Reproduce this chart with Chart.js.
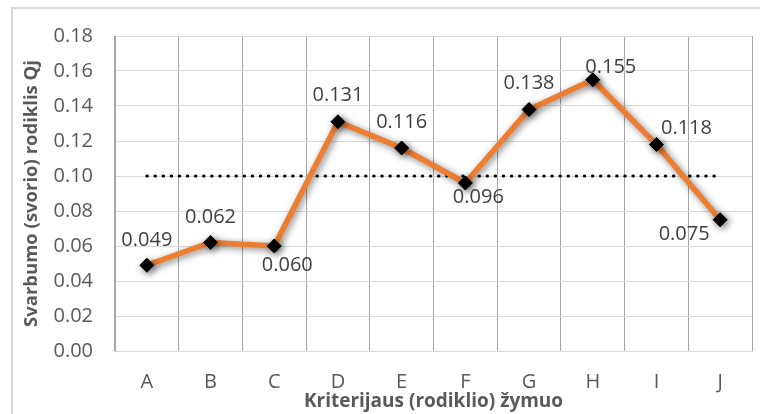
<!DOCTYPE html>
<html>
<head>
<meta charset="utf-8">
<script src="https://cdn.jsdelivr.net/npm/chart.js@4.4.1/dist/chart.umd.min.js"></script>
<style>
  html, body { margin: 0; padding: 0; background: #fff; }
  #wrap { width: 760px; height: 414px; }
</style>
</head>
<body>
<div id="wrap"><canvas id="qjChart" width="760" height="414"></canvas></div>
<script>
const categories = ["A", "B", "C", "D", "E", "F", "G", "H", "I", "J"];
const qjValues = [0.049, 0.062, 0.060, 0.131, 0.116, 0.096, 0.138, 0.155, 0.118, 0.075];
const averageLine = [0.10, 0.10, 0.10, 0.10, 0.10, 0.10, 0.10, 0.10, 0.10, 0.10];
const yTicks = [0, 0.02, 0.04, 0.06, 0.08, 0.10, 0.12, 0.14, 0.16, 0.18];

// where each value label sits relative to its point
const labelOffsets = [
  [0, -25], [0, -25], [13, 19], [0, -26], [0, -26],
  [13, 14], [0, -26], [18, -12], [30, -16], [-36, 15]
];

const frame = {
  id: "frame",
  beforeDraw(chart) {
    const ctx = chart.ctx;
    ctx.save();
    ctx.fillStyle = "#fff";
    ctx.fillRect(0, 0, chart.width, chart.height);
    ctx.strokeStyle = "#d9d9d9";
    ctx.lineWidth = 2;
    ctx.strokeRect(12, 8, chart.width + 20, chart.height + 20);
    ctx.restore();
  },
};

const lineShadow = {
  id: "lineShadow",
  beforeDatasetDraw(chart, args) {
    if (args.index !== 0) return;
    const ctx = chart.ctx;
    ctx.save();
    ctx.shadowColor = "rgba(0,0,0,0.5)";
    ctx.shadowBlur = 7;
    ctx.shadowOffsetX = 2;
    ctx.shadowOffsetY = 2;
  },
  afterDatasetDraw(chart, args) {
    if (args.index !== 0) return;
    chart.ctx.restore();
  },
};

const valueLabels = {
  id: "valueLabels",
  afterDatasetsDraw(chart) {
    const ctx = chart.ctx;
    const meta = chart.getDatasetMeta(0);
    ctx.save();
    ctx.font = "20px 'Open Sans'";
    ctx.fillStyle = "#404040";
    ctx.textAlign = "center";
    ctx.textBaseline = "middle";
    meta.data.forEach((pt, i) => {
      const off = labelOffsets[i];
      ctx.fillText(qjValues[i].toFixed(3), pt.x + off[0], pt.y + off[1]);
    });
    ctx.restore();
  },
};

const qjChart = new Chart(document.getElementById("qjChart").getContext("2d"), {
  type: "line",
  data: {
    labels: categories,
    datasets: [
      {
        label: "Qj",
        data: qjValues,
        borderColor: "#ed7d31",
        borderWidth: 5.5,
        pointStyle: "rectRot",
        pointRadius: 7,
        pointBackgroundColor: "#000",
        pointBorderColor: "#000",
        pointBorderWidth: 1,
        tension: 0,
        clip: false,
        order: 1,
      },
      {
        label: "vidurkis",
        data: averageLine,
        borderColor: "#000",
        borderWidth: 3,
        borderDash: [0.5, 7.6],
        borderCapStyle: "round",
        pointRadius: 0,
        order: 2,
      },
    ],
  },
  options: {
    responsive: false,
    animation: false,
    events: [],
    layout: { padding: { top: 36, right: 3, left: 0, bottom: 0 } },
    plugins: {
      legend: { display: false },
      tooltip: { enabled: false },
    },
    scales: {
      x: {
        offset: true,
        grid: { offset: true, color: "#a6a6a6", drawTicks: false },
        border: { color: "#d9d9d9" },
        ticks: { padding: 19, color: "#595959", font: { family: "'Open Sans'", size: 20 } },
        title: {
          display: true,
          text: "Kriterijaus (rodiklio) žymuo",
          color: "#595959",
          font: { family: "'Open Sans'", size: 19, weight: "bold" },
          padding: { top: 0, bottom: 1 },
        },
        afterFit(scale) { scale.height = 63; },
      },
      y: {
        min: 0,
        max: 0.18,
        afterBuildTicks(scale) { scale.ticks = yTicks.map((v) => ({ value: v })); },
        grid: { color: "#d9d9d9", drawTicks: false },
        border: { color: "#a6a6a6" },
        ticks: {
          padding: 22,
          color: "#595959",
          font: { family: "'Open Sans'", size: 20 },
          callback: (v) => v.toFixed(2),
        },
        title: {
          display: true,
          text: "Svarbumo (svorio) rodiklis Qj",
          color: "#595959",
          font: { family: "'Open Sans'", size: 18.5, weight: "bold" },
          padding: { top: 21, bottom: 0 },
        },
        afterFit(scale) { scale.width = 115; },
      },
    },
  },
  plugins: [frame, lineShadow, valueLabels],
});
</script>
</body>
</html>
